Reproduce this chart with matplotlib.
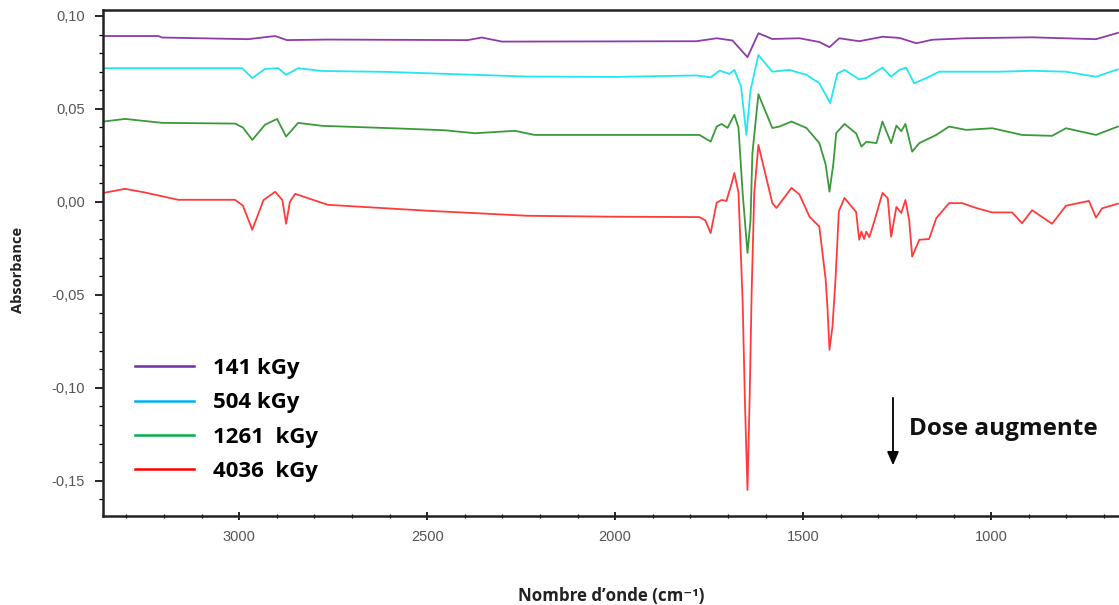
import matplotlib
matplotlib.use("Agg")
import matplotlib.pyplot as plt
from matplotlib.lines import Line2D
from matplotlib.ticker import MultipleLocator, FuncFormatter

# ---- data (wavenumber cm-1, absorbance) ----
red_wn = [3361, 3303, 3250, 3162, 3011, 2990, 2965, 2935, 2904, 2885, 2875, 2865, 2851, 2764, 2498, 2232, 2001,
          1776, 1760, 1746, 1730, 1717, 1704, 1690, 1683, 1672, 1661, 1655, 1651, 1648, 1642, 1637, 1630, 1619,
          1582, 1571, 1531, 1510, 1483, 1457, 1440, 1435, 1430, 1422, 1414, 1405, 1390, 1359, 1351, 1345, 1338,
          1332, 1324, 1310, 1289, 1275, 1266, 1252, 1239, 1228, 1218, 1210, 1191, 1165, 1146, 1112, 1077, 1040,
          997, 944, 918, 891, 838, 801, 740, 721, 705, 663]
red_abs = [0.0048, 0.0070, 0.0050, 0.0011, 0.0011, -0.0020, -0.0150, 0.0010, 0.0054, 0.0010, -0.0118, 0.0000, 0.0043,
           -0.0016, -0.0048, -0.0075, -0.0080,
           -0.0082, -0.0100, -0.0168, -0.0005, 0.0010, 0.0005, 0.0100, 0.0155, 0.0050, -0.0530, -0.1060, -0.1350,
           -0.1550, -0.1030, -0.0490, 0.0050, 0.0306,
           -0.0006, -0.0033, 0.0075, 0.0040, -0.0080, -0.0133, -0.0420, -0.0580, -0.0796, -0.0670, -0.0420, -0.0050,
           0.0021, -0.0055, -0.0204, -0.0160, -0.0200,
           -0.0160, -0.0190, -0.0100, 0.0048, 0.0020, -0.0188, -0.0027, -0.0060, 0.0010, -0.0100, -0.0294, -0.0204,
           -0.0200, -0.0088, -0.0007, -0.0007, -0.0033,
           -0.0057, -0.0057, -0.0115, -0.0045, -0.0118, -0.0021, 0.0005, -0.0085, -0.0035, -0.0010]

green_wn = [3361, 3303, 3205, 3011, 2990, 2965, 2931, 2899, 2875, 2843, 2780, 2567, 2453, 2373, 2267, 2214, 2001,
            1776, 1746, 1730, 1717, 1701, 1683, 1672, 1661, 1651, 1648, 1640, 1635, 1619, 1582, 1563, 1531, 1491,
            1457, 1440, 1430, 1420, 1412, 1390, 1359, 1345, 1332, 1305, 1289, 1266, 1252, 1239, 1228, 1210, 1191,
            1146, 1112, 1066, 997, 918, 838, 801, 721, 663]
green_abs = [0.0432, 0.0446, 0.0425, 0.0421, 0.0400, 0.0333, 0.0415, 0.0446, 0.0351, 0.0425, 0.0409, 0.0394, 0.0385,
             0.0369, 0.0382, 0.0360, 0.0360,
             0.0360, 0.0324, 0.0405, 0.0419, 0.0398, 0.0468, 0.0400, 0.0050, -0.0200, -0.0275, -0.0100, 0.0260,
             0.0579, 0.0397, 0.0405, 0.0432, 0.0397,
             0.0316, 0.0200, 0.0055, 0.0200, 0.0370, 0.0419, 0.0368, 0.0297, 0.0323, 0.0316, 0.0432, 0.0316, 0.0410,
             0.0380, 0.0419, 0.0270, 0.0316,
             0.0360, 0.0405, 0.0387, 0.0396, 0.0360, 0.0355, 0.0396, 0.0360, 0.0405]

cyan_wn = [3361, 2992, 2965, 2931, 2896, 2875, 2843, 2780, 2604, 2445, 2232, 2001, 1784, 1746, 1722, 1696, 1683,
           1665, 1651, 1640, 1619, 1582, 1537, 1491, 1457, 1428, 1409, 1390, 1351, 1332, 1289, 1266, 1244, 1226,
           1205, 1173, 1138, 1066, 979, 891, 801, 721, 663]
cyan_abs = [0.0719, 0.0719, 0.0666, 0.0715, 0.0719, 0.0683, 0.0719, 0.0704, 0.0699, 0.0688, 0.0674, 0.0672, 0.0680,
            0.0670, 0.0706, 0.0688, 0.0710,
            0.0620, 0.0360, 0.0600, 0.0790, 0.0700, 0.0710, 0.0683, 0.0638, 0.0531, 0.0690, 0.0710, 0.0659, 0.0667,
            0.0722, 0.0673, 0.0710, 0.0722,
            0.0638, 0.0665, 0.0700, 0.0700, 0.0700, 0.0705, 0.0700, 0.0673, 0.0713]

purple_wn = [3361, 3215, 3205, 2976, 2904, 2873, 2764, 2392, 2355, 2301, 1784, 1730, 1688, 1648, 1619, 1582, 1510,
             1457, 1430, 1404, 1351, 1289, 1244, 1199, 1157, 1066, 891, 721, 663]
purple_abs = [0.0892, 0.0892, 0.0884, 0.0875, 0.0892, 0.0870, 0.0873, 0.0870, 0.0884, 0.0862, 0.0864, 0.0880, 0.0868,
              0.0778, 0.0907, 0.0876, 0.0880,
              0.0860, 0.0832, 0.0880, 0.0864, 0.0888, 0.0882, 0.0853, 0.0872, 0.0880, 0.0885, 0.0875, 0.0909]

labels = ["141 kGy", "504 kGy", "1261  kGy", "4036  kGy"]
curve_colors = ["#8e3ca8", "#22e6f0", "#3a9a3a", "#ff3b3b"]
legend_colors = ["#7030a0", "#00b0f0", "#00b050", "#ff0000"]

# ---- figure ----
W, H = 1119, 605
fig = plt.figure(figsize=(W / 100, H / 100), dpi=100)
ax = fig.add_axes([103 / W, 1 - 516 / H, 1 - 103 / W, (516 - 10) / H])

series = [(purple_wn, purple_abs), (cyan_wn, cyan_abs), (green_wn, green_abs), (red_wn, red_abs)]
for (wn, ab), c in zip(series, curve_colors):
    ax.plot(wn, ab, color=c, lw=1.3)

ax.set_xlim(3362, 660)
ax.set_ylim(-0.169, 0.1032)

ax.xaxis.set_major_locator(MultipleLocator(500))
ax.xaxis.set_minor_locator(MultipleLocator(100))
ax.yaxis.set_major_locator(MultipleLocator(0.05))
ax.yaxis.set_minor_locator(MultipleLocator(0.01))
ax.yaxis.set_major_formatter(FuncFormatter(lambda v, p: f"{v:.2f}".replace(".", ",").replace("-0,00", "0,00")))
ax.xaxis.set_major_formatter(FuncFormatter(lambda v, p: f"{int(round(v))}"))

ax.tick_params(axis="both", which="major", labelsize=10.5, labelcolor="#555555", width=1.2, length=6, pad=7)
ax.tick_params(axis="x", which="both", direction="inout")
ax.tick_params(axis="y", which="both", direction="out")
ax.tick_params(axis="both", which="minor", length=3, width=0.9)
for lab in ax.get_xticklabels() + ax.get_yticklabels():
    lab.set_fontfamily("Liberation Sans")

for s in ["left", "bottom", "top"]:
    ax.spines[s].set_linewidth(1.8)
    ax.spines[s].set_color("#222222")
ax.spines["right"].set_visible(False)

fig.text(18 / W, 1 - 270 / H, "Absorbance", rotation=90, ha="center", va="center",
         fontsize=10.5, fontweight="bold", family=["Open Sans", "DejaVu Sans"], color="#222222")
fig.text(611 / W, 1 - 596 / H, "Nombre d\u2019onde (cm\u207b\u00b9)", ha="center", va="center",
         fontsize=12.2, fontweight="bold", family=["Open Sans", "DejaVu Sans"], color="#222222")

handles = [Line2D([], [], color=c, lw=1.8) for c in legend_colors]
leg = fig.legend(handles, labels, loc="upper left", bbox_to_anchor=(135 / W, 1 - 358 / H),
                 frameon=False, borderpad=0, borderaxespad=0, handlelength=2.65, handletextpad=0.85,
                 labelspacing=0.6, prop=dict(family="Open Sans", weight="bold", size=16))

ax.annotate("", xy=(893 / W, 1 - 468 / H), xytext=(893 / W, 1 - 395 / H), xycoords="figure fraction",
            arrowprops=dict(arrowstyle="-|>,head_width=0.35,head_length=0.8", color="black", lw=1.3))
fig.text(909 / W, 1 - 429 / H, "Dose augmente", ha="left", va="center", fontsize=17.5, fontweight="bold",
         family="Open Sans", color="#111111")

fig.savefig("out.png", dpi=100)
